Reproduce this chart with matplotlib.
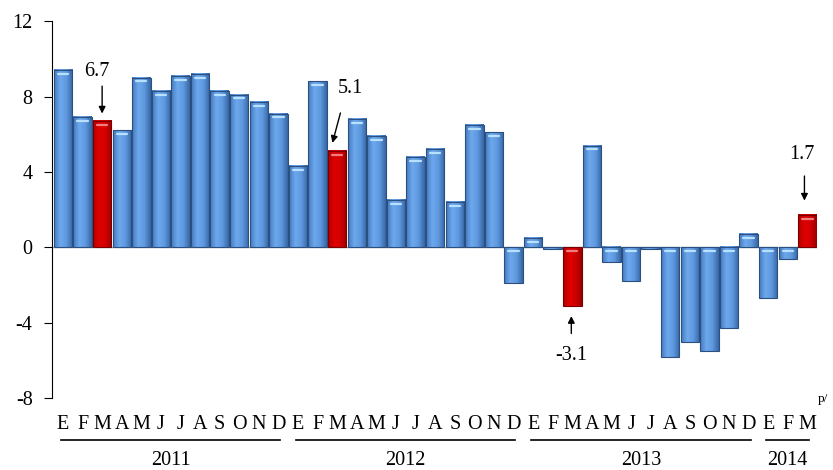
import numpy as np
import matplotlib
matplotlib.use("Agg")
import matplotlib.pyplot as plt
from matplotlib.colors import LinearSegmentedColormap

plt.rcParams['font.family'] = 'Liberation Serif'

# Monthly annual variation, Jan 2011 - Mar 2014
months = ["E", "F", "M", "A", "M", "J", "J", "A", "S", "O", "N", "D"]
years = ["2011", "2012", "2013", "2014"]
months_per_year = [12, 12, 12, 3]
values = [9.4, 6.9, 6.7, 6.2, 9.0, 8.3, 9.1, 9.2, 8.3, 8.1, 7.7, 7.1,
          4.3, 8.8, 5.1, 6.8, 5.9, 2.5, 4.8, 5.2, 2.4, 6.5, 6.1, -1.9,
          0.5, -0.1, -3.1, 5.4, -0.8, -1.8, -0.1, -5.8, -5.0, -5.5, -4.3, 0.7,
          -2.7, -0.6, 1.7]
highlight = [2, 14, 26, 38]
yticks = [-8, -4, 0, 4, 8, 12]

blue_cmap = LinearSegmentedColormap.from_list("bb", ["#4379bf", "#6ea8ec", "#5e98df", "#3766a3"])
red_cmap = LinearSegmentedColormap.from_list("rr", ["#b00000", "#e00000", "#d20000", "#9a0000"])

fig = plt.figure(figsize=(8.33, 4.70), dpi=100)
ax = fig.add_axes([0.0624, 0.153, 0.9186, 0.802])

x = np.arange(len(values))
width = 0.94
grad = np.linspace(0, 1, 64).reshape(1, -1)
for i, v in zip(x, values):
    hl = i in highlight
    cmap = red_cmap if hl else blue_cmap
    edge = "#7a0000" if hl else "#2b507f"
    y0, y1 = min(0, v), max(0, v)
    ax.imshow(grad, cmap=cmap, extent=[i - width / 2, i + width / 2, y0, y1],
              aspect='auto', zorder=2, interpolation='bilinear')
    ax.bar(i, v, width=width, facecolor='none', edgecolor=edge, linewidth=0.8, zorder=3)
    # small light glint at the top of each bar
    if abs(v) > 0.3:
        cap = v - 0.2 if v > 0 else -0.2
        ax.plot([i - width * 0.28, i + width * 0.28], [cap, cap],
                color="#f08080" if hl else "#b8e0ff", lw=1.6, zorder=4,
                solid_capstyle='round')

ax.axhline(0, color="#9aa4b0", lw=1.0, zorder=1)

ax.set_xlim(-0.56, len(values) - 0.5)
ax.set_ylim(-8, 12)
ax.set_yticks(yticks)
ax.set_yticklabels([str(t) for t in yticks], fontsize=14.5)
ax.tick_params(axis='y', direction='out', length=6, width=0.8, pad=8)
ax.set_xticks([])
for s in ["top", "right", "bottom"]:
    ax.spines[s].set_visible(False)
ax.spines["left"].set_linewidth(0.8)

arrow = dict(arrowstyle="-|>", color="black", lw=1, mutation_scale=10)
fs = 14.5

# value callouts on the highlighted bars
ax.annotate("", xy=(2, 6.95), xytext=(2, 8.7), arrowprops=arrow)
ax.text(1.75, 8.85, "6.7", fontsize=fs, ha="center", va="bottom")

ax.annotate("", xy=(13.72, 5.4), xytext=(14.2, 7.27), arrowprops=arrow)
ax.text(14.66, 7.9, "5.1", fontsize=fs, ha="center", va="bottom")

ax.annotate("", xy=(25.95, -3.5), xytext=(25.95, -4.72), arrowprops=arrow)
ax.text(25.95, -5.25, "-3.1", fontsize=fs, ha="center", va="top")

ax.annotate("", xy=(37.85, 2.33), xytext=(37.85, 3.93), arrowprops=arrow)
ax.text(37.7, 4.4, "1.7", fontsize=fs, ha="center", va="bottom")

# month letters, year underlines and year labels
start = 0
for yr, n in zip(years, months_per_year):
    for k in range(n):
        ax.text(start + k, -9.39, months[k], fontsize=fs, ha="center", va="center",
                clip_on=False)
    x0, x1 = start - 0.12, start + n - 1 + 0.1
    ax.plot([x0, x1], [-10.24, -10.24], color="black", lw=1.2, clip_on=False)
    ax.text((start + start + n - 1) / 2, -11.3, yr, fontsize=fs,
            ha="center", va="center", clip_on=False)
    start += n
ax.text(len(values) - 0.2, -8.05, "p/", fontsize=9.5, ha="center", va="center",
        clip_on=False)

fig.savefig("out.png", dpi=100)
